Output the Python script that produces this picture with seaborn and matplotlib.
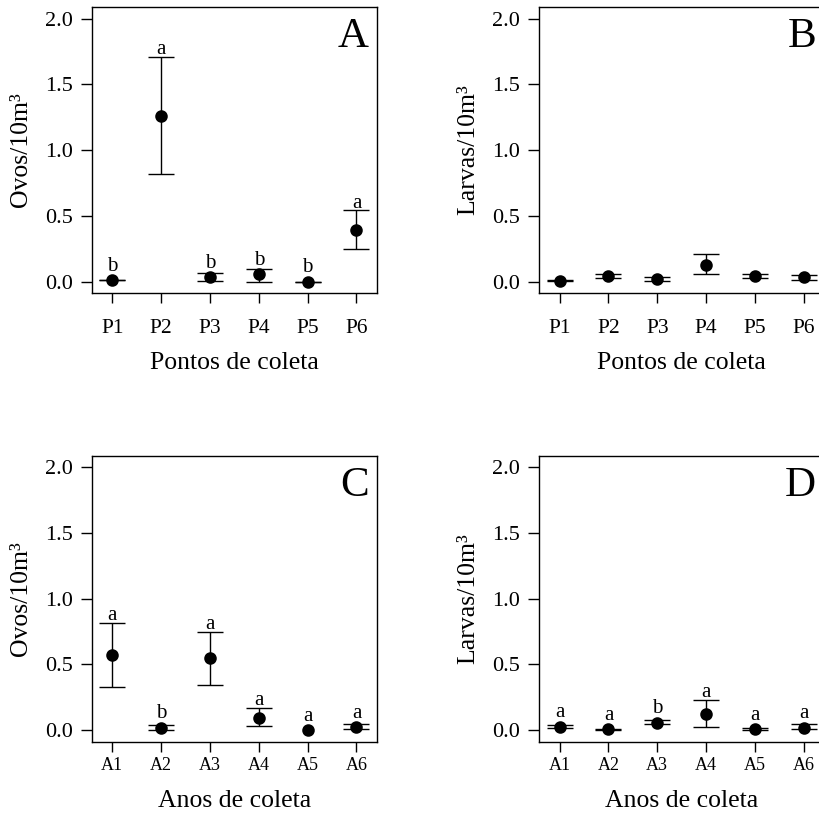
import numpy as np
import pandas as pd
import matplotlib
matplotlib.use('Agg')
import matplotlib.pyplot as plt
import seaborn as sns

# categorias
pontos = ['P1', 'P2', 'P3', 'P4', 'P5', 'P6']
anos = ['A1', 'A2', 'A3', 'A4', 'A5', 'A6']

# A - ovos por ponto
ovos_pontos_media = [0.013, 1.262, 0.033, 0.058, 0.0, 0.395]
ovos_pontos_sup = [0.016, 1.706, 0.064, 0.094, 0.0, 0.542]
ovos_pontos_inf = [0.010, 0.821, 0.008, 0.0, 0.0, 0.251]
letras_ovos_pontos = ['b', 'a', 'b', 'b', 'b', 'a']

# B - larvas por ponto
larvas_pontos_media = [0.008, 0.043, 0.020, 0.127, 0.043, 0.033]
larvas_pontos_sup = [0.010, 0.058, 0.033, 0.210, 0.058, 0.051]
larvas_pontos_inf = [0.005, 0.026, 0.008, 0.056, 0.026, 0.013]
letras_larvas_pontos = ['', '', '', '', '', '']

# C - ovos por ano
ovos_anos_media = [0.571, 0.020, 0.551, 0.096, 0.0, 0.025]
ovos_anos_sup = [0.815, 0.040, 0.749, 0.172, np.nan, 0.050]
ovos_anos_inf = [0.332, 0.0, 0.343, 0.033, np.nan, 0.008]
letras_ovos_anos = ['a', 'b', 'a', 'a', 'a', 'a']

# D - larvas por ano
larvas_anos_media = [0.027, 0.008, 0.058, 0.122, 0.008, 0.020]
larvas_anos_sup = [0.038, 0.010, 0.079, 0.228, 0.020, 0.046]
larvas_anos_inf = [0.015, 0.004, 0.046, 0.025, 0.0, 0.008]
letras_larvas_anos = ['a', 'a', 'b', 'a', 'a', 'a']

sns.set_theme(style='ticks', rc={'text.color': 'black', 'axes.labelcolor': 'black',
                                 'xtick.color': 'black', 'ytick.color': 'black',
                                 'axes.edgecolor': 'black', 'axes.linewidth': 1.0})
plt.rcParams['font.family'] = ['Liberation Serif', 'DejaVu Serif']

W, H = 819., 813.
fig = plt.figure(figsize=(W / 100, H / 100), dpi=100)


def painel(left, top, cats, media, sup, inf, letras, ylabel, xlabel, tag, xsize, xpad, xlpad):
    w, h = 285., 286.
    ax = fig.add_axes([left / W, 1 - (top + h) / H, w / W, h / H])
    df = pd.DataFrame({'cat': cats, 'media': media, 'sup': sup, 'inf': inf})
    sns.pointplot(data=df, x='cat', y='media', color='black', linestyle='none',
                  markers='o', markersize=7, errorbar=None, ax=ax, zorder=3)
    ok = df['sup'].notna().values
    x = np.arange(len(cats))
    ax.errorbar(x[ok], df['media'][ok],
                yerr=[(df['media'] - df['inf'])[ok], (df['sup'] - df['media'])[ok]],
                fmt='none', ecolor='black', elinewidth=1.0, capsize=9.4, capthick=1.0, zorder=2)
    # letras de significancia
    for i, l in enumerate(letras):
        if l:
            y = np.nanmax([df['sup'][i] + 0.022, df['media'][i] + 0.07])
            ax.text(i, y, l, ha='center', va='baseline', fontsize=15)
    ax.set_xlim(-0.416, 5.42)
    ax.set_ylim(-0.086, 2.089)
    ax.set_yticks([0, 0.5, 1.0, 1.5, 2.0])
    ax.set_yticklabels(['0.0', '0.5', '1.0', '1.5', '2.0'])
    ax.tick_params(axis='y', length=8, width=1, pad=6, labelsize=16)
    ax.tick_params(axis='x', length=7.5, width=1, pad=xpad, labelsize=xsize)
    for s in ax.spines.values():
        s.set_visible(True)
        s.set_linewidth(1.0)
    ax.set_ylabel(ylabel, fontsize=18.5, labelpad=9)
    ax.set_xlabel(xlabel, fontsize=18.5, labelpad=xlpad)
    ax.text(0.972, 0.86, tag, transform=ax.transAxes, ha='right', va='baseline', fontsize=31)
    return ax


painel(92, 7, pontos, ovos_pontos_media, ovos_pontos_sup, ovos_pontos_inf,
       letras_ovos_pontos, 'Ovos/10m³', 'Pontos de coleta', 'A', 15.5, 11, 10)
painel(539.3, 7, pontos, larvas_pontos_media, larvas_pontos_sup, larvas_pontos_inf,
       letras_larvas_pontos, 'Larvas/10m³', 'Pontos de coleta', 'B', 15.5, 11, 10)
painel(92, 455.5, anos, ovos_anos_media, ovos_anos_sup, ovos_anos_inf,
       letras_ovos_anos, 'Ovos/10m³', 'Anos de coleta', 'C', 13, 4, 11)
painel(539.3, 455.5, anos, larvas_anos_media, larvas_anos_sup, larvas_anos_inf,
       letras_larvas_anos, 'Larvas/10m³', 'Anos de coleta', 'D', 13, 4, 11)

fig.savefig('out.png', dpi=100)
